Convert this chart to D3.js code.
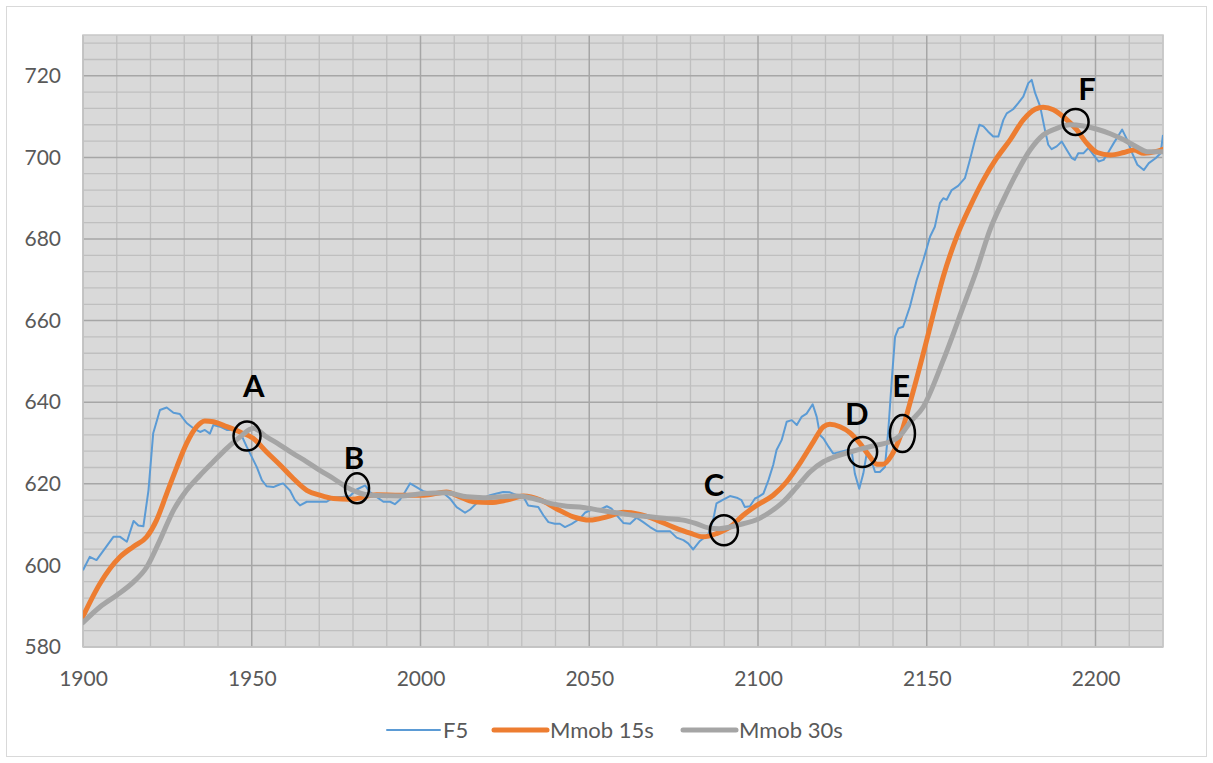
<!DOCTYPE html>
<html>
<head>
<meta charset="utf-8">
<script src="https://cdn.jsdelivr.net/npm/d3@7"></script>
<style>
  html, body { margin: 0; padding: 0; background: #ffffff; }
  svg { display: block; }
  text { font-family: Lato, "Open Sans", sans-serif; }
</style>
</head>
<body>
<svg id="chart" width="1213" height="763"></svg>
<script>
// ---------- DATA ----------
const seriesNames = ["F5", "Mmob 15s", "Mmob 30s"];

const f5X = [1900,1902,1904,1909,1911,1913,1915,1916.4,1917.9,1919.4,1920.8,1922.8,1924.8,1926.8,1928.7,1930.7,1932.7,1934.7,1936.1,1937.6,1938.6,1940.6,1942.6,1944.5,1946.5,1948.5,1950,1951.5,1953,1954.4,1956.4,1958.4,1959.3,1961.3,1962.8,1964.3,1966.3,1968.2,1972.2,1974.2,1977.1,1979.1,1981.1,1983.6,1985,1987,1989,1991,1992.4,1993.9,1995.4,1996.9,1998.8,2000.8,2003.8,2006.7,2008.7,2010.7,2013.2,2014.7,2016.6,2018.6,2020.6,2022.6,2024.5,2026.5,2028.5,2030.5,2031.9,2033.4,2034.9,2036.4,2037.9,2039.8,2041.3,2042.8,2044.8,2047.3,2048.7,2050.7,2052.7,2055.2,2056.6,2058.1,2060.1,2062.1,2064,2066,2068,2070,2071.9,2073.9,2075.9,2077.9,2079.3,2080.8,2082.8,2085.3,2086.7,2087.7,2089.7,2091.7,2093.7,2095.1,2096.1,2097.6,2099.1,2100.1,2101.6,2103.1,2104.5,2105.5,2107,2108.5,2110,2111.5,2112.9,2114.4,2116.2,2117.4,2118.4,2119.4,2120.9,2122.3,2124.3,2126.3,2127.8,2128.7,2130,2131.2,2132.2,2133.7,2134.7,2136.1,2137.6,2138.6,2139.6,2140.6,2141.6,2143,2145,2147,2149,2151,2152.4,2153.9,2154.9,2155.9,2157.4,2159.3,2161.3,2162.8,2164.3,2165.6,2166.8,2168.2,2169.7,2171.2,2172.7,2173.7,2175.6,2177.1,2178.6,2180.1,2181.1,2182.1,2183.6,2185,2186,2187,2188.5,2190,2191.5,2193,2193.9,2194.9,2196.4,2197.9,2199.4,2200.9,2202.4,2203.9,2205.4,2206.9,2207.9,2209.4,2210.9,2212.4,2214.3,2215.8,2217.8,2219.3,2220];
const f5Y = [598.8,602.1,601.3,607.0,607.0,605.8,610.9,609.8,609.6,618.4,632.4,638.1,638.7,637.4,637.1,634.9,633.6,632.7,633.2,632.3,634.4,634.0,633.2,633.2,632.7,629.1,626.6,624.1,620.9,619.4,619.2,619.9,620.1,618.4,616.0,614.7,615.6,615.6,615.6,616.6,616.8,617.0,618.6,619.6,618.0,616.8,615.6,615.6,615.0,616.1,618.0,620.1,619.2,618.2,617.6,617.8,616.4,614.3,612.9,613.7,615.2,616.4,617.2,617.6,618.0,617.9,617.2,616.8,614.7,614.5,614.3,612.3,610.6,610.2,610.2,609.4,610.2,611.5,612.9,613.7,613.5,614.5,613.9,612.3,610.4,610.2,611.7,610.6,609.4,608.4,608.4,608.4,606.8,606.2,605.4,603.9,606.0,607.6,611.1,615.2,616.1,617.0,616.6,616.0,614.3,614.5,616.4,616.8,617.6,620.9,624.6,628.3,630.7,635.2,635.6,634.4,636.4,637.2,639.5,636.4,631.9,631.1,629.1,627.4,627.8,628.2,627.8,622.5,618.8,622.5,627.4,625.4,622.9,622.9,624.1,633.0,645.0,656.0,658.1,658.5,663.4,669.9,674.9,680.6,683.0,688.8,690.0,689.6,692.0,693.0,694.9,699.4,704.3,708.0,707.6,706.3,705.1,705.1,709.2,710.8,711.8,713.3,714.9,718.2,719.0,715.8,712.5,706.8,703.1,702.0,702.7,703.9,701.8,699.8,699.4,701.0,701.0,702.3,700.6,699.0,699.4,701.4,703.5,705.5,706.8,704.3,701.0,698.2,696.9,698.6,699.8,701.0,705.5];

const m15X = [1900,1905,1911,1914.9,1918.9,1921.8,1924.8,1927.8,1930.7,1933.7,1936.1,1938.6,1942.6,1946.5,1950.5,1954.4,1958.4,1962.3,1966.3,1970.2,1974.2,1979.1,1987,1994,2001,2007.7,2011.7,2015.6,2020.6,2025.5,2030.5,2035.4,2040.3,2045.3,2050.2,2055.2,2060.1,2065,2070,2074.9,2079.9,2083.8,2087.7,2091.7,2095.6,2099.6,2104.5,2108.5,2112.4,2116.4,2119.4,2121.3,2124.3,2127.3,2130.2,2133.2,2135.2,2137.1,2139.6,2142.1,2145,2149,2152,2154.9,2158.9,2162.8,2166.8,2170.7,2174.7,2178.6,2182.1,2184.5,2187.5,2191,2194.4,2197.4,2200.5,2204.4,2208.4,2211.4,2214.3,2217.8,2220];
const m15Y = [587.5,595.5,602.1,604.6,607.0,611.1,617.6,624.1,629.9,634.0,635.4,635.2,634.0,632.7,631.1,627.8,624.6,621.3,618.4,617.2,616.4,616.2,617.3,617.2,617.2,618.0,616.8,615.6,615.4,616.0,617.0,616.1,613.9,611.9,611.1,611.9,613.0,612.5,611.1,609.4,607.9,607.0,607.8,609.4,612.3,614.7,617.2,620.5,625.0,630.3,634.0,634.6,634.0,632.5,629.9,626.6,624.8,624.8,627.0,631.5,639.7,652.0,661.8,670.8,680.6,687.9,694.5,699.8,704.3,709.2,711.8,712.3,711.7,709.6,706.8,703.5,701.2,700.6,701.2,701.8,701.0,701.4,702.0];

const m30X = [1900,1905,1910,1914.9,1918.9,1922.8,1926.8,1930.7,1934.7,1938.6,1942.6,1946.5,1950.5,1954.4,1958.4,1962.3,1966.3,1970.2,1974.2,1978.1,1981.1,1985,1993.9,2000.8,2007.7,2013.7,2018.6,2023.6,2028.5,2033.4,2038.4,2043.3,2048.2,2053.2,2058.1,2063,2068,2072.9,2077.9,2081.5,2085.3,2088.5,2091.7,2095.6,2099.6,2103.6,2107.5,2111.5,2115.4,2119.4,2123.3,2127.3,2131.2,2135.2,2139.1,2142.1,2145,2149,2154.9,2160.8,2164.8,2168.7,2172.7,2176.6,2180.6,2184.5,2188.5,2192.4,2196.4,2200.5,2204.4,2208.4,2212.4,2215.3,2220];
const m30Y = [586.0,589.8,592.7,595.9,599.6,606.2,613.5,618.4,622.1,625.4,628.7,631.5,633.6,631.5,629.5,627.4,625.4,623.3,621.3,619.2,618.0,617.2,617.0,617.6,617.8,616.8,616.6,616.8,617.0,616.4,615.2,614.5,614.2,613.5,612.9,612.3,611.9,611.5,611.1,610.3,609.2,609.0,609.4,610.2,611.2,613.1,615.6,619.2,622.9,625.4,626.8,627.8,628.7,629.5,630.3,631.8,635.0,638.9,650.3,663.4,672.4,682.2,689.6,696.1,701.8,705.5,707.1,708.0,707.7,706.9,705.8,704.3,702.5,701.4,701.4];

const xTicks = [1900,1950,2000,2050,2100,2150,2200];
const yTicks = [580,600,620,640,660,680,700,720];

// annotations: label, circle centre (x,value), label anchor (x,value)
const annLabels = ["A","B","C","D","E","F"];
const annCx = [1948.6,1981.2,2089.9,2131.0,2142.8,2194.1];
const annCy = [631.7,618.9,608.6,627.8,632.3,708.7];
const annLx = [1950.6,1980.3,2087.0,2129.3,2142.4,2197.5];
const annLy = [644.2,626.5,620.0,637.3,644.2,717.1];
const annRx = [13.5,12,14,14.5,12.5,13];
const annRy = [14.5,15,15,15,18.5,13];

// ---------- LAYOUT ----------
const svg = d3.select("#chart");
const W = 1213, H = 763;
const plot = {left: 83, top: 35, right: 1163, bottom: 647};

svg.append("rect").attr("x", 6.5).attr("y", 6.5).attr("width", W - 13).attr("height", H - 13)
  .attr("fill", "#fff").attr("stroke", "#d9d9d9").attr("stroke-width", 1);

const x = d3.scaleLinear().domain([1900, 2220]).range([plot.left, plot.right]);
const y = d3.scaleLinear().domain([580, 730]).range([plot.bottom, plot.top]);

svg.append("rect").attr("x", plot.left).attr("y", plot.top)
  .attr("width", plot.right - plot.left).attr("height", plot.bottom - plot.top)
  .attr("fill", "#d9d9d9");

const grid = svg.append("g");
// minor grid
grid.selectAll(".vmin").data(d3.range(1900, 2221, 10).filter(v => v % 50 !== 0))
  .join("line").attr("x1", d => x(d)).attr("x2", d => x(d))
  .attr("y1", plot.top).attr("y2", plot.bottom)
  .attr("stroke", "#bfbfbf").attr("stroke-width", 1.3);
grid.selectAll(".hmin").data(d3.range(584, 731, 4).filter(v => v % 20 !== 0))
  .join("line").attr("y1", d => y(d)).attr("y2", d => y(d))
  .attr("x1", plot.left).attr("x2", plot.right)
  .attr("stroke", "#bfbfbf").attr("stroke-width", 1.3);
// major grid
grid.selectAll(".vmaj").data(xTicks)
  .join("line").attr("x1", d => x(d)).attr("x2", d => x(d))
  .attr("y1", plot.top).attr("y2", plot.bottom)
  .attr("stroke", "#a6a6a6").attr("stroke-width", 1.5);
grid.selectAll(".hmaj").data(yTicks)
  .join("line").attr("y1", d => y(d)).attr("y2", d => y(d))
  .attr("x1", plot.left).attr("x2", plot.right)
  .attr("stroke", "#a6a6a6").attr("stroke-width", 1.5);
// plot border
svg.append("rect").attr("x", plot.left).attr("y", plot.top)
  .attr("width", plot.right - plot.left).attr("height", plot.bottom - plot.top)
  .attr("fill", "none").attr("stroke", "#c8c8c8").attr("stroke-width", 1.5);

// axes
const yAxis = svg.append("g").attr("transform", `translate(${plot.left - 22},0)`)
  .call(d3.axisLeft(y).tickValues(yTicks).tickSize(0).tickFormat(d3.format("d")));
yAxis.select(".domain").remove();
yAxis.selectAll("text").attr("x", 0).attr("dx", 0).style("font-size", "21px")
  .style("font-family", "Lato, sans-serif").attr("fill", "#595959");

const xAxis = svg.append("g").attr("transform", `translate(0,${plot.bottom + 23})`)
  .call(d3.axisBottom(x).tickValues(xTicks).tickSize(0).tickFormat(d3.format("d")));
xAxis.select(".domain").remove();
xAxis.selectAll("text").attr("y", 0).attr("dy", "0.75em").style("font-size", "21px")
  .style("font-family", "Lato, sans-serif").attr("fill", "#595959");

// lines
const lineGen = d3.line().x(d => x(d[0])).y(d => y(d[1]));
const smooth = d3.line().x(d => x(d[0])).y(d => y(d[1])).curve(d3.curveMonotoneX);

const clip = svg.append("clipPath").attr("id", "clp").append("rect")
  .attr("x", plot.left).attr("y", plot.top).attr("width", plot.right - plot.left).attr("height", plot.bottom - plot.top);
const lines = svg.append("g").attr("clip-path", "url(#clp)");

lines.append("path").datum(d3.zip(f5X, f5Y)).attr("d", lineGen)
  .attr("fill", "none").attr("stroke", "#5b9bd5").attr("stroke-width", 2).attr("stroke-linejoin", "round");
lines.append("path").datum(d3.zip(m15X, m15Y)).attr("d", smooth)
  .attr("fill", "none").attr("stroke", "#ed7d31").attr("stroke-width", 5).attr("stroke-linejoin", "round").attr("stroke-linecap", "round");
lines.append("path").datum(d3.zip(m30X, m30Y)).attr("d", smooth)
  .attr("fill", "none").attr("stroke", "#a5a5a5").attr("stroke-width", 5).attr("stroke-linejoin", "round").attr("stroke-linecap", "round");

// annotations
const ann = svg.append("g");
annLabels.forEach((lab, i) => {
  ann.append("ellipse").attr("cx", x(annCx[i])).attr("cy", y(annCy[i]))
    .attr("rx", annRx[i]).attr("ry", annRy[i])
    .attr("fill", "none").attr("stroke", "#000").attr("stroke-width", 2.5);
  ann.append("text").attr("x", x(annLx[i])).attr("y", y(annLy[i]))
    .attr("text-anchor", "middle").attr("dominant-baseline", "central")
    .style("font-size", "31px").style("font-weight", "bold").attr("fill", "#000").text(lab);
});

// legend
const legColors = ["#5b9bd5", "#ed7d31", "#a5a5a5"];
const legWidths = [2, 5, 5];
const legStart = [387, 494, 683];
const leg = svg.append("g").attr("transform", "translate(0,730)");
seriesNames.forEach((n, i) => {
  leg.append("line").attr("x1", legStart[i]).attr("x2", legStart[i] + 53)
    .attr("y1", 0).attr("y2", 0).attr("stroke", legColors[i])
    .attr("stroke-width", legWidths[i]).attr("stroke-linecap", "round");
  leg.append("text").attr("x", legStart[i] + 56).attr("y", 0).attr("dy", "0.35em")
    .style("font-size", "22px").attr("fill", "#595959").text(n);
});
</script>
</body>
</html>
